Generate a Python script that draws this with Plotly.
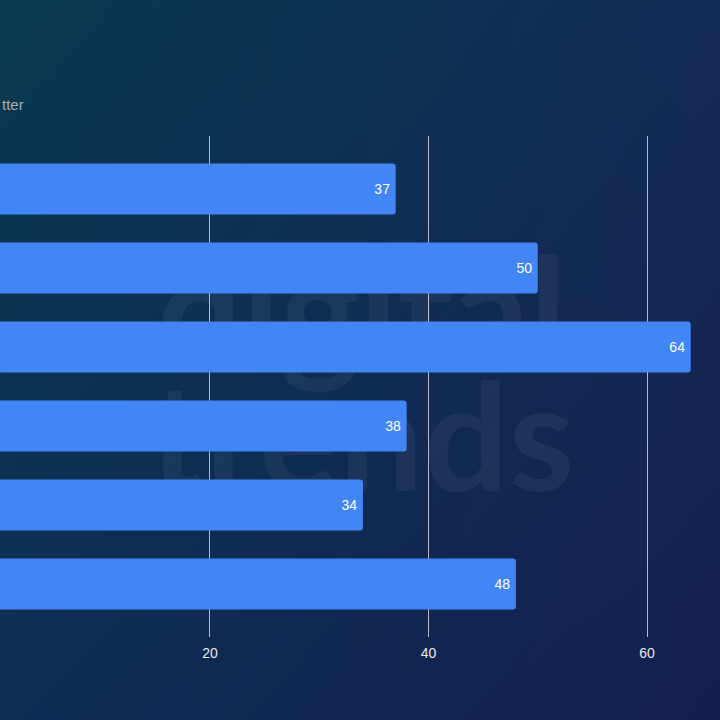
import base64, struct, zlib
import plotly.graph_objects as go

# ---------------- data ----------------
categories = ["Category 1", "Category 2", "Category 3", "Category 4", "Category 5", "Category 6"]
values = [37, 50, 64, 38, 34, 48]
tick_vals = [0, 20, 40, 60]
tick_text = ["0", "20", "40", "60"]
subtitle_text = "tter"
watermark_words = ["digital", "trends"]

# ---------------- background gradient (PNG built in pure python) ----------------
def make_png(w, h, c_tl, c_tr, c_bl, c_br):
    rows = bytearray()
    for j in range(h):
        v = j / (h - 1)
        rows.append(0)
        for i in range(w):
            u = i / (w - 1)
            for k in range(3):
                top = c_tl[k] * (1 - u) + c_tr[k] * u
                bot = c_bl[k] * (1 - u) + c_br[k] * u
                rows.append(int(round(top * (1 - v) + bot * v)))
    def chunk(t, d):
        c = struct.pack(">I", len(d)) + t + d
        return c + struct.pack(">I", zlib.crc32(t + d) & 0xFFFFFFFF)
    png = b"\x89PNG\r\n\x1a\n"
    png += chunk(b"IHDR", struct.pack(">IIBBBBB", w, h, 8, 2, 0, 0, 0))
    png += chunk(b"IDAT", zlib.compress(bytes(rows), 9))
    png += chunk(b"IEND", b"")
    return "data:image/png;base64," + base64.b64encode(png).decode()

bg = make_png(120, 120, (8, 58, 78), (20, 42, 87), (15, 44, 85), (20, 31, 80))

W, H = 720, 720
top_px, bot_px = 136, 637
plot_h = bot_px - top_px
xr = [0.78, 66.68]

fig = go.Figure()

# faint watermark on the primary axes (drawn beneath the overlay axes holding the bars)
fig.add_trace(go.Scatter(
    x=[33.9, 33.9], y=[0.617, 0.367], mode="text",
    text=watermark_words, textposition="middle center",
    textfont=dict(family="Lato", size=150, color="rgba(255,255,255,0.05)", weight="bold"),
    hoverinfo="skip", showlegend=False, xaxis="x", yaxis="y",
))

fig.add_trace(go.Bar(
    x=values, y=categories, orientation="h",
    marker=dict(color="#4285F4", cornerradius=3, line=dict(width=0)),
    width=0.646,
    text=[str(v) + "\u2009" for v in values],
    textposition="inside", insidetextanchor="end",
    textfont=dict(family="Liberation Sans, Arial, sans-serif", size=14, color="#ffffff"),
    cliponaxis=False,
    showlegend=False, xaxis="x2", yaxis="y2",
))

fig.update_layout(
    width=W, height=H,
    margin=dict(l=0, r=0, t=top_px, b=H - bot_px, pad=0),
    paper_bgcolor="#0f2c55",
    plot_bgcolor="rgba(0,0,0,0)",
    font=dict(family="Liberation Sans, Arial, sans-serif"),
    xaxis=dict(range=xr, domain=[0, 1], tickvals=tick_vals, ticktext=tick_text,
               showgrid=True, gridcolor="#b4bac6", gridwidth=1, zeroline=False,
               showline=False, ticks="", ticklabelstandoff=6,
               tickfont=dict(size=14, color="#e8ebf0")),
    yaxis=dict(range=[0, 1], domain=[0, 1], visible=False, showgrid=False, fixedrange=True),
    xaxis2=dict(range=xr, overlaying="x", visible=False, showgrid=False),
    yaxis2=dict(range=[5.671, -0.671], overlaying="y", visible=False, showgrid=False,
                type="category", categoryorder="array", categoryarray=categories),
    images=[dict(source=bg, xref="paper", yref="paper", x=0, y=1 + top_px / plot_h,
                 sizex=1, sizey=H / plot_h, sizing="stretch", layer="below",
                 xanchor="left", yanchor="top")],
    annotations=[dict(text=subtitle_text, xref="paper", yref="paper", x=0, y=1,
                      xanchor="left", yanchor="middle", yshift=32, showarrow=False,
                      font=dict(size=15, color="#a2abb6", family="Liberation Sans, Arial, sans-serif"))],
)

fig.write_html("out.html")
